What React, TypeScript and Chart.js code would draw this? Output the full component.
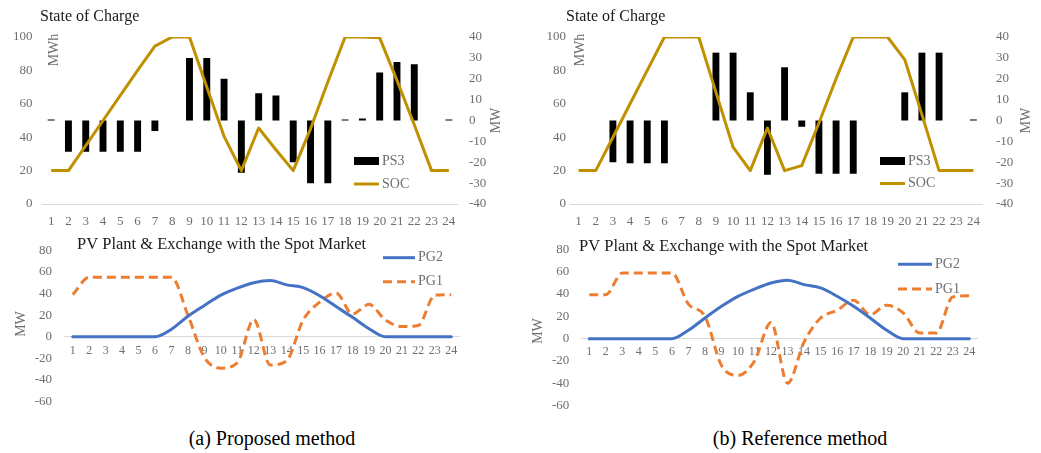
import React, { useEffect, useRef } from 'react';
import { Chart, registerables } from 'chart.js';

Chart.register(...registerables);

// ---------- data ----------
const hours = ['1', '2', '3', '4', '5', '6', '7', '8', '9', '10', '11', '12', '13', '14', '15', '16', '17', '18', '19', '20', '21', '22', '23', '24'];

// (a) Proposed method
const ps3Proposed = [0.5, -15, -15, -15, -15, -15, -5, null, 30, 30, 20, -25, 13, 12, -20, -30, -30, 0.5, 1, 23, 28, 27, null, 0.5];
const socProposed = [20, 20, 35, 50, 65, 80, 94.5, 100, 100, 70, 40.5, 20, 45.5, 32.5, 20, 45, 73, 100, 100, 99.5, 74, 47.5, 20, 20];
const pg2Proposed = [0, 0, 0, 0, 0, 0, 7, 19, 29, 38.5, 45, 50, 52, 48, 45.5, 38, 28, 18, 7.5, 0, 0, 0, 0, 0];
const pg1Proposed = [39, 55, 55, 55, 55, 55, 55, 20, -19, -29, -24, 16, -26, -22, 15.5, 32, 40.5, 21, 30, 15.5, 9.5, 10.5, 38.5, 39];

// (b) Reference method
const ps3Reference = [null, null, -20, -20.5, -20.5, -20.5, null, null, 32.5, 32.5, 13.5, -26, 25.5, -3, -25.5, -25.5, -25.5, null, null, 13.5, 32.5, 32.5, null, 0.5];
const socReference = [20, 20, 40, 60, 80, 100, 100, 100, 67, 34, 20, 45.5, 20, 23, 48.5, 75, 100, 100, 100, 86.5, 53.5, 20, 20, 20];
const pg2Reference = [0, 0, 0, 0, 0, 0, 7.5, 18.5, 29, 38, 44.5, 50, 52.5, 48.5, 45.5, 38, 29, 18.5, 7.5, 0, 0, 0, 0, 0];
const pg1Reference = [39.5, 39.5, 59, 59, 59, 59, 31, 20, -24, -33, -20, 14.5, -40, -3, 18.5, 25.5, 34.5, 21.5, 30, 23, 5, 5, 37.5, 38.5];

// ---------- styles ----------
const FONT = "'Liberation Serif', 'Times New Roman', serif";
const GRAY = '#6e6e6e';
const AXIS = '#d9d9d9';
const SOC_COLOR = '#BF9000';
const PG2_COLOR = '#4472C4';
const PG1_COLOR = '#ED7D31';

const overlayPlugin = {
  id: 'overlay',
  afterDraw(chart: any, _args: any, opts: any) {
    const ctx = chart.ctx as CanvasRenderingContext2D;
    ctx.save();
    (opts.texts || []).forEach((t: any) => {
      ctx.save();
      ctx.font = `${t.size}px ${FONT}`;
      ctx.fillStyle = t.color;
      ctx.textBaseline = 'middle';
      ctx.textAlign = t.align || 'left';
      ctx.translate(t.x, t.y);
      if (t.rotate) ctx.rotate(-Math.PI / 2);
      ctx.fillText(t.text, 0, 0);
      ctx.restore();
    });
    (opts.legend || []).forEach((l: any) => {
      const ds = chart.data.datasets[l.index];
      ctx.save();
      if (ds.type === 'bar' || (!ds.type && chart.config.type === 'bar')) {
        ctx.fillStyle = ds.backgroundColor;
        ctx.fillRect(l.x, l.y - 4, l.w, 8);
      } else {
        ctx.strokeStyle = ds.borderColor;
        ctx.lineWidth = ds.borderWidth;
        ctx.setLineDash(ds.borderDash || []);
        ctx.beginPath();
        ctx.moveTo(l.x, l.y);
        ctx.lineTo(l.x + l.w, l.y);
        ctx.stroke();
      }
      ctx.setLineDash([]);
      ctx.font = `14px ${FONT}`;
      ctx.fillStyle = GRAY;
      ctx.textBaseline = 'middle';
      ctx.textAlign = 'left';
      ctx.fillText(ds.label, l.x + l.w + 3, l.y);
      ctx.restore();
    });
    ctx.restore();
  },
};

type Geo = { W: number; H: number; left: number; right: number; top: number; bottom: number; yPad: number; y1Pad?: number; xPad: number };

function socConfig(ps3: (number | null)[], soc: number[], g: Geo, texts: any[], legend: any[]) {
  const tickFont = { family: FONT, size: 13 };
  return {
    type: 'bar',
    data: {
      labels: hours,
      datasets: [
        { type: 'line', label: 'SOC', data: soc, yAxisID: 'y', borderColor: SOC_COLOR, backgroundColor: SOC_COLOR, borderWidth: 3, pointRadius: 0, tension: 0, fill: false, order: 0, borderJoinStyle: 'round' },
        { type: 'bar', label: 'PS3', data: ps3, yAxisID: 'y1', backgroundColor: '#000000', barPercentage: 0.4, categoryPercentage: 1, order: 1 },
      ],
    },
    options: {
      responsive: false,
      animation: false,
      layout: { padding: { top: g.top, left: 0, right: 0, bottom: 0 } },
      plugins: { legend: { display: false }, tooltip: { enabled: false }, overlay: { texts, legend } },
      scales: {
        x: {
          offset: true,
          grid: { display: false, drawTicks: false },
          border: { display: true, color: AXIS, width: 1 },
          ticks: { color: GRAY, font: tickFont, padding: g.xPad, maxRotation: 0, autoSkip: false },
          afterFit: (s: any) => { s.height = g.H - g.bottom; },
        },
        y: {
          position: 'left', min: 0, max: 100,
          grid: { display: false, drawTicks: false }, border: { display: false },
          ticks: { stepSize: 20, color: GRAY, font: tickFont, padding: g.yPad },
          afterFit: (s: any) => { s.width = g.left; },
        },
        y1: {
          position: 'right', min: -40, max: 40,
          grid: { display: false, drawTicks: false }, border: { display: false },
          ticks: { stepSize: 10, color: GRAY, font: tickFont, padding: g.y1Pad },
          afterFit: (s: any) => { s.width = g.W - g.right; },
        },
      },
    },
    plugins: [overlayPlugin],
  };
}

function pvConfig(pg2: number[], pg1: number[], g: Geo, texts: any[], legend: any[]) {
  return {
    type: 'line',
    data: {
      labels: hours,
      datasets: [
        { label: 'PG2', data: pg2, borderColor: PG2_COLOR, backgroundColor: PG2_COLOR, borderWidth: 3, pointRadius: 0, cubicInterpolationMode: 'monotone', fill: false, borderJoinStyle: 'round', borderCapStyle: 'round' },
        { label: 'PG1', data: pg1, borderColor: PG1_COLOR, backgroundColor: PG1_COLOR, borderWidth: 3, borderDash: [9, 5], pointRadius: 0, cubicInterpolationMode: 'monotone', fill: false },
      ],
    },
    options: {
      responsive: false,
      animation: false,
      layout: { padding: { top: g.top, left: 0, right: g.W - g.right, bottom: g.H - g.bottom } },
      plugins: { legend: { display: false }, tooltip: { enabled: false }, overlay: { texts, legend } },
      scales: {
        x: {
          position: { y: 0 },
          offset: true,
          grid: { display: false, drawTicks: false },
          border: { display: true, color: AXIS, width: 1 },
          ticks: { color: GRAY, font: { family: FONT, size: 12 }, padding: g.xPad, maxRotation: 0, autoSkip: false },
        },
        y: {
          position: 'left', min: -60, max: 80,
          grid: { display: false, drawTicks: false }, border: { display: false },
          ticks: { stepSize: 20, color: GRAY, font: { family: FONT, size: 13 }, padding: g.yPad },
          afterFit: (s: any) => { s.width = g.left; },
        },
      },
    },
    plugins: [overlayPlugin],
  };
}

function ChartBox({ left, top, width, height, make }: { left: number; top: number; width: number; height: number; make: () => any }) {
  const ref = useRef<HTMLCanvasElement>(null);
  useEffect(() => {
    const chart = new Chart(ref.current as HTMLCanvasElement, make());
    return () => chart.destroy();
  }, []);
  return <canvas ref={ref} width={width} height={height} style={{ position: 'absolute', left, top, width, height }} />;
}

const geoTopA: Geo = { W: 510, H: 232, left: 42.5, right: 457.5, top: 37, bottom: 204, yPad: 10, y1Pad: 11.5, xPad: 10 };
const geoTopB: Geo = { W: 521, H: 232, left: 50, right: 462, top: 37, bottom: 204, yPad: 4, y1Pad: 14, xPad: 10 };
const geoBotA: Geo = { W: 510, H: 192, left: 64.5, right: 459.5, top: 10.7, bottom: 179.8, yPad: 12.5, xPad: 7 };
const geoBotB: Geo = { W: 521, H: 195, left: 61, right: 457.6, top: 18.3, bottom: 185, yPad: 11.7, xPad: 6 };

export default function App() {
  return (
    <div style={{ position: 'absolute', left: 0, top: 0, width: 1041, height: 453, background: '#ffffff', overflow: 'hidden' }}>
      <ChartBox left={0} top={0} width={geoTopA.W} height={geoTopA.H} make={() => socConfig(ps3Proposed, socProposed, geoTopA, [
        { text: 'State of Charge', x: 40, y: 17, size: 16, color: '#1a1a1a' },
        { text: 'MWh', x: 54, y: 50, size: 14, color: GRAY, rotate: true, align: 'center' },
        { text: 'MW', x: 496, y: 120.5, size: 14, color: GRAY, rotate: true, align: 'center' },
      ], [
        { index: 1, x: 354, y: 161, w: 25 },
        { index: 0, x: 354, y: 184, w: 25 },
      ])} />
      <ChartBox left={520} top={0} width={geoTopB.W} height={geoTopB.H} make={() => socConfig(ps3Reference, socReference, geoTopB, [
        { text: 'State of Charge', x: 46, y: 17, size: 16, color: '#1a1a1a' },
        { text: 'MWh', x: 60, y: 50, size: 14, color: GRAY, rotate: true, align: 'center' },
        { text: 'MW', x: 506, y: 120.5, size: 14, color: GRAY, rotate: true, align: 'center' },
      ], [
        { index: 1, x: 360, y: 161, w: 25 },
        { index: 0, x: 360, y: 183.5, w: 25 },
      ])} />
      <ChartBox left={0} top={230} width={geoBotA.W} height={geoBotA.H} make={() => pvConfig(pg2Proposed, pg1Proposed, geoBotA, [
        { text: 'PV Plant & Exchange with the Spot Market', x: 77, y: 15, size: 16.5, color: '#1a1a1a' },
        { text: 'MW', x: 21.5, y: 94, size: 14, color: GRAY, rotate: true, align: 'center' },
      ], [
        { index: 0, x: 383, y: 27.7, w: 32 },
        { index: 1, x: 383, y: 51.7, w: 32 },
      ])} />
      <ChartBox left={520} top={230} width={geoBotB.W} height={geoBotB.H} make={() => pvConfig(pg2Reference, pg1Reference, geoBotB, [
        { text: 'PV Plant & Exchange with the Spot Market', x: 59, y: 16.7, size: 16.5, color: '#1a1a1a' },
        { text: 'MW', x: 18.5, y: 101, size: 14, color: GRAY, rotate: true, align: 'center' },
      ], [
        { index: 0, x: 378, y: 34.3, w: 34 },
        { index: 1, x: 378, y: 59, w: 34 },
      ])} />
      <div style={{ position: 'absolute', left: 172, top: 425, width: 200, textAlign: 'center', fontFamily: FONT, fontSize: 20, lineHeight: '26px', color: '#000' }}>(a) Proposed method</div>
      <div style={{ position: 'absolute', left: 700, top: 425, width: 200, textAlign: 'center', fontFamily: FONT, fontSize: 20, lineHeight: '26px', color: '#000' }}>(b) Reference method</div>
    </div>
  );
}
